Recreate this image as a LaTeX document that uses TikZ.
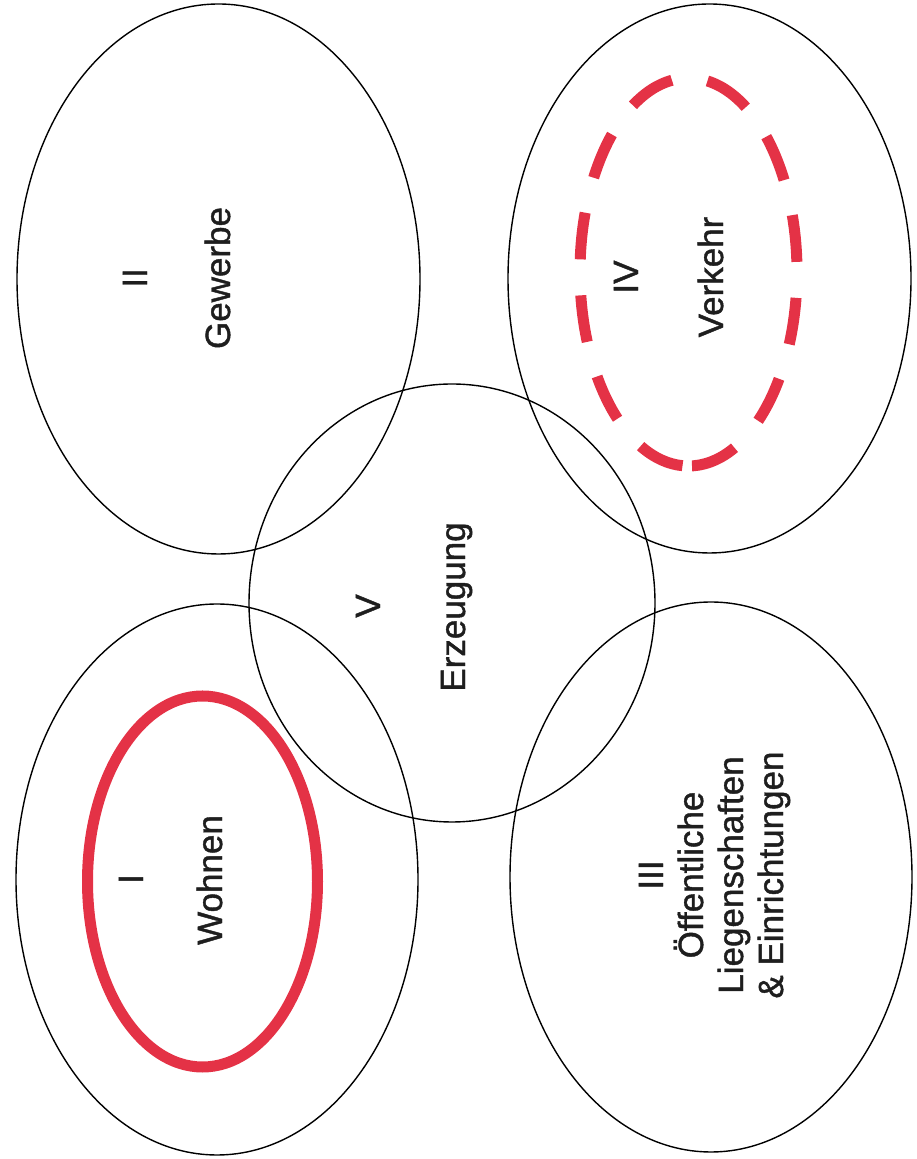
\documentclass[tikz,border=0pt]{standalone}
\usepackage{fontspec}
\setmainfont{Liberation Sans}
\newfontfamily\lblfont{Liberation Sans}[FakeBold=1.2]
\definecolor{redline}{RGB}{228,50,70}
\definecolor{txt}{RGB}{30,30,30}
\begin{document}
\begin{tikzpicture}[x=1pt,y=1pt,
  area/.style={draw=black, line width=1.4pt},
  redsolid/.style={draw=redline, line width=11pt},
  reddash/.style={draw=redline, line width=11pt, dash pattern=on 47pt off 36pt, dash phase=79.5pt},
  lbl/.style={rotate=90, anchor=base, inner sep=0pt, font=\lblfont\fontsize{35pt}{40pt}\selectfont, text=txt}]
\useasboundingbox (0,0) rectangle (916,1159);
% areas
\draw[area] (218.5,880) ellipse [x radius=201.5pt, y radius=275pt];
\draw[area] (709.5,880.5) ellipse [x radius=201.5pt, y radius=274.5pt];
\draw[area] (217,279.5) ellipse [x radius=201pt, y radius=275.5pt];
\draw[area] (711,282) ellipse [x radius=201pt, y radius=275pt];
\draw[area] (452,556) ellipse [x radius=203pt, y radius=219pt];
% highlights
\draw[redsolid] (202.5,277.5) ellipse [x radius=115pt, y radius=185.5pt];
\draw[reddash] (688.5,693) arc [start angle=-90, end angle=270, x radius=108.5pt, y radius=194pt];
% labels
\node[lbl] (n2) at (147,881) {II};
\node[lbl] (t2) at (230,881) {Gewerbe};
\node[lbl] (n4) at (638,882) {IV};
\node[lbl] (t4) at (723,882) {Verkehr};
\node[lbl] (n1) at (143,280) {I};
\node[lbl] (t1) at (222,279) {Wohnen};
\node[lbl] (n5) at (380,553) {V};
\node[lbl] (t5) at (465,552) {Erzeugung};
\node[lbl] (n3) at (663,284) {III};
\node[lbl] (t3a) at (703,284) {Öffentliche};
\node[lbl] (t3b) at (743,284) {Liegenschaften};
\node[lbl] (t3c) at (783,284) {\& Einrichtungen};
\end{tikzpicture}
\end{document}
